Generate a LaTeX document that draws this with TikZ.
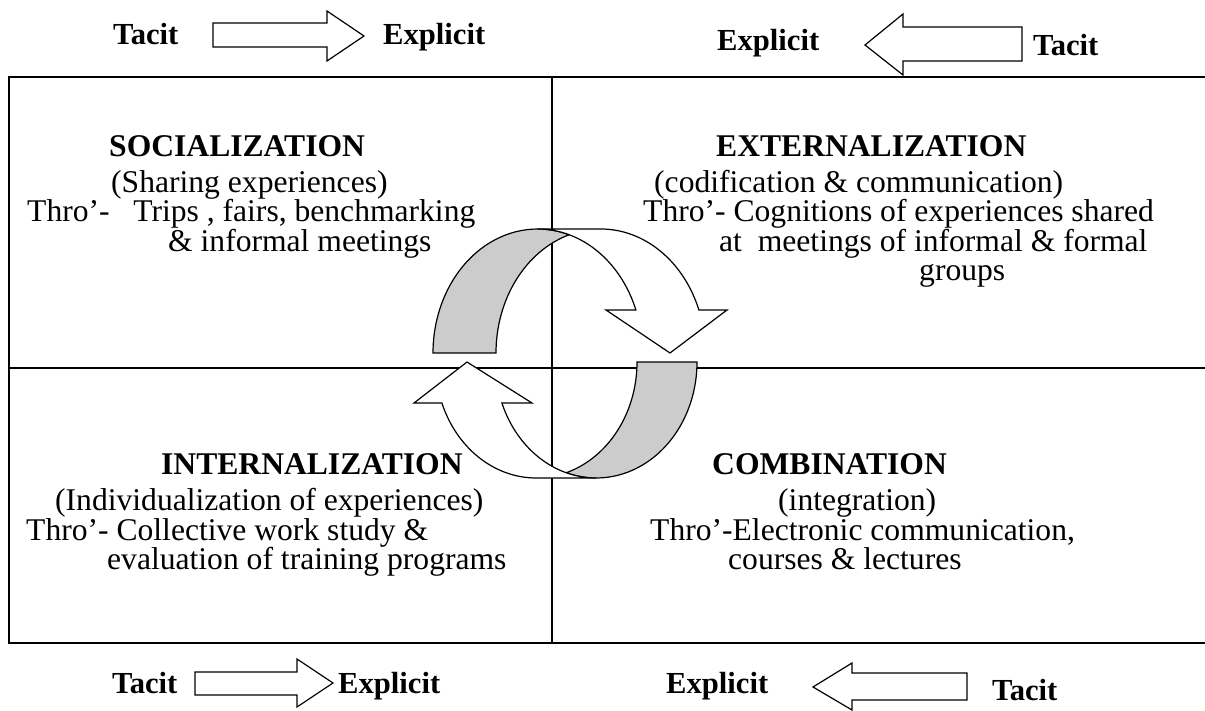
\documentclass[tikz,border=0pt]{standalone}
\usepackage{fontspec}
\setmainfont{Liberation Serif}
\definecolor{ribbonback}{RGB}{204,204,204}
\begin{document}
\begin{tikzpicture}[x=1pt,y=1pt,
  txt/.style={anchor=base west, inner sep=0pt, font=\fontsize{31.6}{38}\selectfont},
  ttl/.style={anchor=base west, inner sep=0pt, font=\fontsize{31.6}{38}\selectfont\bfseries},
  lbl/.style={anchor=base west, inner sep=0pt, font=\fontsize{30.6}{36}\selectfont\bfseries},
  gridline/.style={line width=2pt},
  blockarrow/.style={draw, fill=white, line width=1.2pt, line join=miter},
  ribbon/.style={draw, fill=white, line width=1.2pt, line join=miter},
  ribbonshade/.style={ribbon, fill=ribbonback}]
\useasboundingbox (0,0) rectangle (1205,-711);
\fill[white] (0,0) rectangle (1205,-711);

% four quadrants
\draw[gridline] (1205,-77) -- (9,-77) -- (9,-643) -- (1205,-643);
\draw[gridline] (552,-77) -- (552,-643);
\draw[gridline] (9,-368) -- (1205,-368);

% upper ribbon arrow: shaded back on the left, front running down to the right
\draw[ribbonshade] (433,-353)
  arc[start angle=180, end angle=72.49, x radius=104.7, y radius=124]
  arc[start angle=107.51, end angle=180, x radius=104.7, y radius=124] -- cycle;
\draw[ribbon] (670,-353) -- (606,-310) -- (635.9,-310)
  arc[start angle=20.29, end angle=90, x radius=104.7, y radius=124]
  -- (600.7,-229)
  arc[start angle=90, end angle=20.29, x radius=104.7, y radius=124]
  -- (727,-310) -- cycle;

% lower ribbon arrow: shaded back on the right, front running up to the left
\draw[ribbonshade] (697,-362)
  arc[start angle=0, end angle=-107.31, x radius=100.8, y radius=116]
  arc[start angle=-72.69, end angle=0, x radius=100.8, y radius=116] -- cycle;
\draw[ribbon] (467,-362) -- (414,-403) -- (441.9,-403)
  arc[start angle=-159.3, end angle=-90, x radius=100.8, y radius=116]
  -- (596.2,-478)
  arc[start angle=-90, end angle=-159.3, x radius=100.8, y radius=116]
  -- (532,-403) -- cycle;

% top-left quadrant
\node[ttl] (soc) at (109,-157) {SOCIALIZATION};
\node[txt] (soc1) at (111,-193) {(Sharing experiences)};
\node[txt] (soc2) at (27,-222) {Thro’-\ \ \ Trips , fairs, benchmarking};
\node[txt] (soc3) at (168,-252) {\& informal meetings};

% top-right quadrant
\node[ttl] (ext) at (716,-157) {EXTERNALIZATION};
\node[txt] (ext1) at (654,-193) {(codification \& communication)};
\node[txt] (ext2) at (643,-222) {Thro’- Cognitions of experiences shared};
\node[txt] (ext3) at (719,-252) {at\ \ meetings of informal \& formal};
\node[txt] (ext4) at (919,-281) {groups};

% bottom-left quadrant
\node[ttl] (int) at (161,-474) {INTERNALIZATION};
\node[txt] (int1) at (55,-510) {(Individualization of experiences)};
\node[txt] (int2) at (26,-540) {Thro’- Collective work study \&};
\node[txt] (int3) at (107,-569) {evaluation of training programs};

% bottom-right quadrant
\node[ttl] (com) at (712,-474) {COMBINATION};
\node[txt] (com1) at (778,-510) {(integration)};
\node[txt] (com2) at (650,-540) {Thro’-Electronic communication,};
\node[txt] (com3) at (728,-569) {courses \& lectures};

% direction labels above the grid
\node[lbl] (tl1) at (113,-45) {Tacit};
\node[lbl] (tl2) at (383,-45) {Explicit};
\draw[blockarrow] (213,-23) -- (327,-23) -- (327,-11) -- (364,-36) -- (327,-61) -- (327,-47) -- (213,-47) -- cycle;
\node[lbl] (tr1) at (717,-51) {Explicit};
\node[lbl] (tr2) at (1033,-56) {Tacit};
\draw[blockarrow] (1022,-27) -- (903,-27) -- (903,-14) -- (865,-45) -- (903,-75) -- (903,-61) -- (1022,-61) -- cycle;

% direction labels below the grid
\node[lbl] (bl1) at (112,-693) {Tacit};
\node[lbl] (bl2) at (338,-693) {Explicit};
\draw[blockarrow] (195,-672) -- (297,-672) -- (297,-659) -- (333,-683) -- (297,-707) -- (297,-695) -- (195,-695) -- cycle;
\node[lbl] (br1) at (666,-693) {Explicit};
\node[lbl] (br2) at (992,-700) {Tacit};
\draw[blockarrow] (967,-673) -- (852,-673) -- (852,-663) -- (813,-687) -- (852,-710) -- (852,-700) -- (967,-700) -- cycle;
\end{tikzpicture}
\end{document}
